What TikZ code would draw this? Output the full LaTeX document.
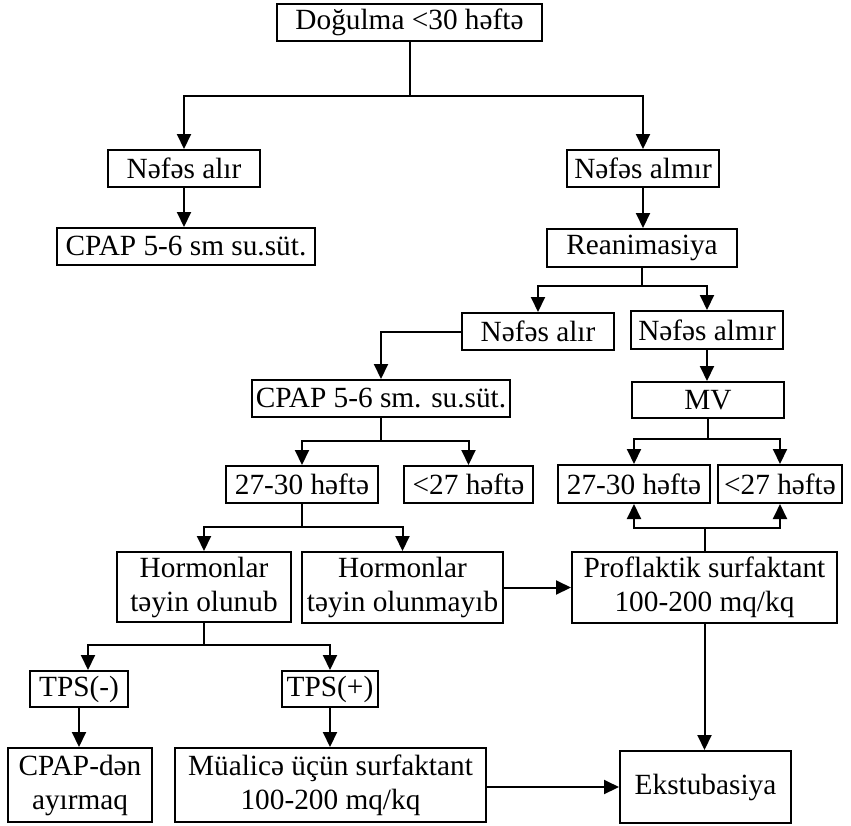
\documentclass[tikz,border=0pt]{standalone}
\usepackage{fontspec}
\setmainfont{Liberation Serif}
\usetikzlibrary{arrows.meta}
\begin{document}
\begin{tikzpicture}[x=1pt,y=-1pt,
  box/.style={draw, line width=2pt, inner sep=0pt, align=center,
    font=\fontsize{29.3pt}{34pt}\selectfont},
  conn/.style={line width=2pt},
  arr/.style={line width=2pt, -{Triangle[width=14pt,length=15pt]}}]
\useasboundingbox (0,0) rectangle (851,825);
% nodes
\node[box, minimum width=265pt, minimum height=37pt] (top) at (409.5,22.5) {Doğulma <30 həftə};
\node[box, minimum width=152pt, minimum height=37pt] (na1) at (184,168.5) {Nəfəs alır};
\node[box, minimum width=152pt, minimum height=37pt] (nam1) at (643,168.5) {Nəfəs almır};
\node[box, minimum width=258pt, minimum height=37pt] (cpap1) at (186,246.5) {CPAP 5-6 sm su.süt.};
\node[box, minimum width=190pt, minimum height=38pt] (rean) at (642,248) {Reanimasiya};
\node[box, minimum width=152pt, minimum height=37pt] (na2) at (538,331.5) {Nəfəs alır};
\node[box, minimum width=152pt, minimum height=38pt] (nam2) at (707,330) {Nəfəs almır};
\node[box, minimum width=258pt, minimum height=37pt] (cpap2) at (381,398.5) {CPAP 5-6 sm. su.süt.};
\node[box, minimum width=152pt, minimum height=36pt] (mv) at (708,400) {MV};
\node[box, minimum width=152pt, minimum height=37pt] (w1) at (302,484.5) {27-30 həftə};
\node[box, minimum width=129pt, minimum height=37pt] (l1) at (468.5,484.5) {<27 həftə};
\node[box, minimum width=152pt, minimum height=38pt] (w2) at (634,484) {27-30 həftə};
\node[box, minimum width=124pt, minimum height=38pt] (l2) at (780,484) {<27 həftə};
\node[box, minimum width=174pt, minimum height=70pt] (hy) at (204,587) {Hormonlar\\təyin olunub};
\node[box, minimum width=201pt, minimum height=71pt] (hn) at (402.5,587.5) {Hormonlar\\təyin olunmayıb};
\node[box, minimum width=265pt, minimum height=71pt] (prof) at (704.5,587.5) {Proflaktik surfaktant\\100-200 mq/kq};
\node[box, minimum width=98pt, minimum height=36pt] (tpsm) at (79,689) {TPS(-)};
\node[box, minimum width=96pt, minimum height=36pt] (tpsp) at (330,689) {TPS(+)};
\node[box, minimum width=144pt, minimum height=74pt] (cpapd) at (80,785) {CPAP-dən\\ayırmaq};
\node[box, minimum width=311pt, minimum height=74pt] (mual) at (330.5,785) {Müalicə üçün surfaktant\\100-200 mq/kq};
\node[box, minimum width=171pt, minimum height=72pt] (ekst) at (705.5,787) {Ekstubasiya};
% junctions
\coordinate (j1) at (409.5,96);
\coordinate (j2) at (642,286);
\coordinate (j3) at (381,441);
\coordinate (j4) at (708,439);
\coordinate (j5) at (302,527);
\coordinate (j6) at (704.5,528);
\coordinate (j7) at (204,645);
% connectors
\draw[conn] (top.south) -- (j1);
\draw[arr] (j1) -| (na1.north);
\draw[arr] (j1) -| (nam1.north);
\draw[arr] (na1.south) -- (na1.south |- cpap1.north);
\draw[arr] (nam1.south) -- (nam1.south |- rean.north);
\draw[conn] (rean.south) -- (j2);
\draw[arr] (j2) -| (na2.north);
\draw[arr] (j2) -| (nam2.north);
\draw[arr] (na2.west) -| (cpap2.north);
\draw[arr] (nam2.south) -- (nam2.south |- mv.north);
\draw[conn] (cpap2.south) -- (j3);
\draw[arr] (j3) -| (w1.north);
\draw[arr] (j3) -| (l1.north);
\draw[conn] (mv.south) -- (j4);
\draw[arr] (j4) -| (w2.north);
\draw[arr] (j4) -| (l2.north);
\draw[conn] (w1.south) -- (j5);
\draw[arr] (j5) -| (hy.north);
\draw[arr] (j5) -| (hn.north);
\draw[conn] (prof.north) -- (j6);
\draw[arr] (j6) -| (w2.south);
\draw[arr] (j6) -| (l2.south);
\draw[arr] (hn.east) -- (prof.west);
\draw[arr] (prof.south) -- (prof.south |- ekst.north);
\draw[conn] (hy.south) -- (j7);
\draw[arr] (j7) -| ([xshift=9pt]tpsm.north);
\draw[arr] (j7) -| (tpsp.north);
\draw[arr] (tpsm.south) -- (tpsm.south |- cpapd.north);
\draw[arr] (tpsp.south) -- (tpsp.south |- mual.north);
\draw[arr] (mual.east |- ekst.west) -- (ekst.west);
\end{tikzpicture}
\end{document}
